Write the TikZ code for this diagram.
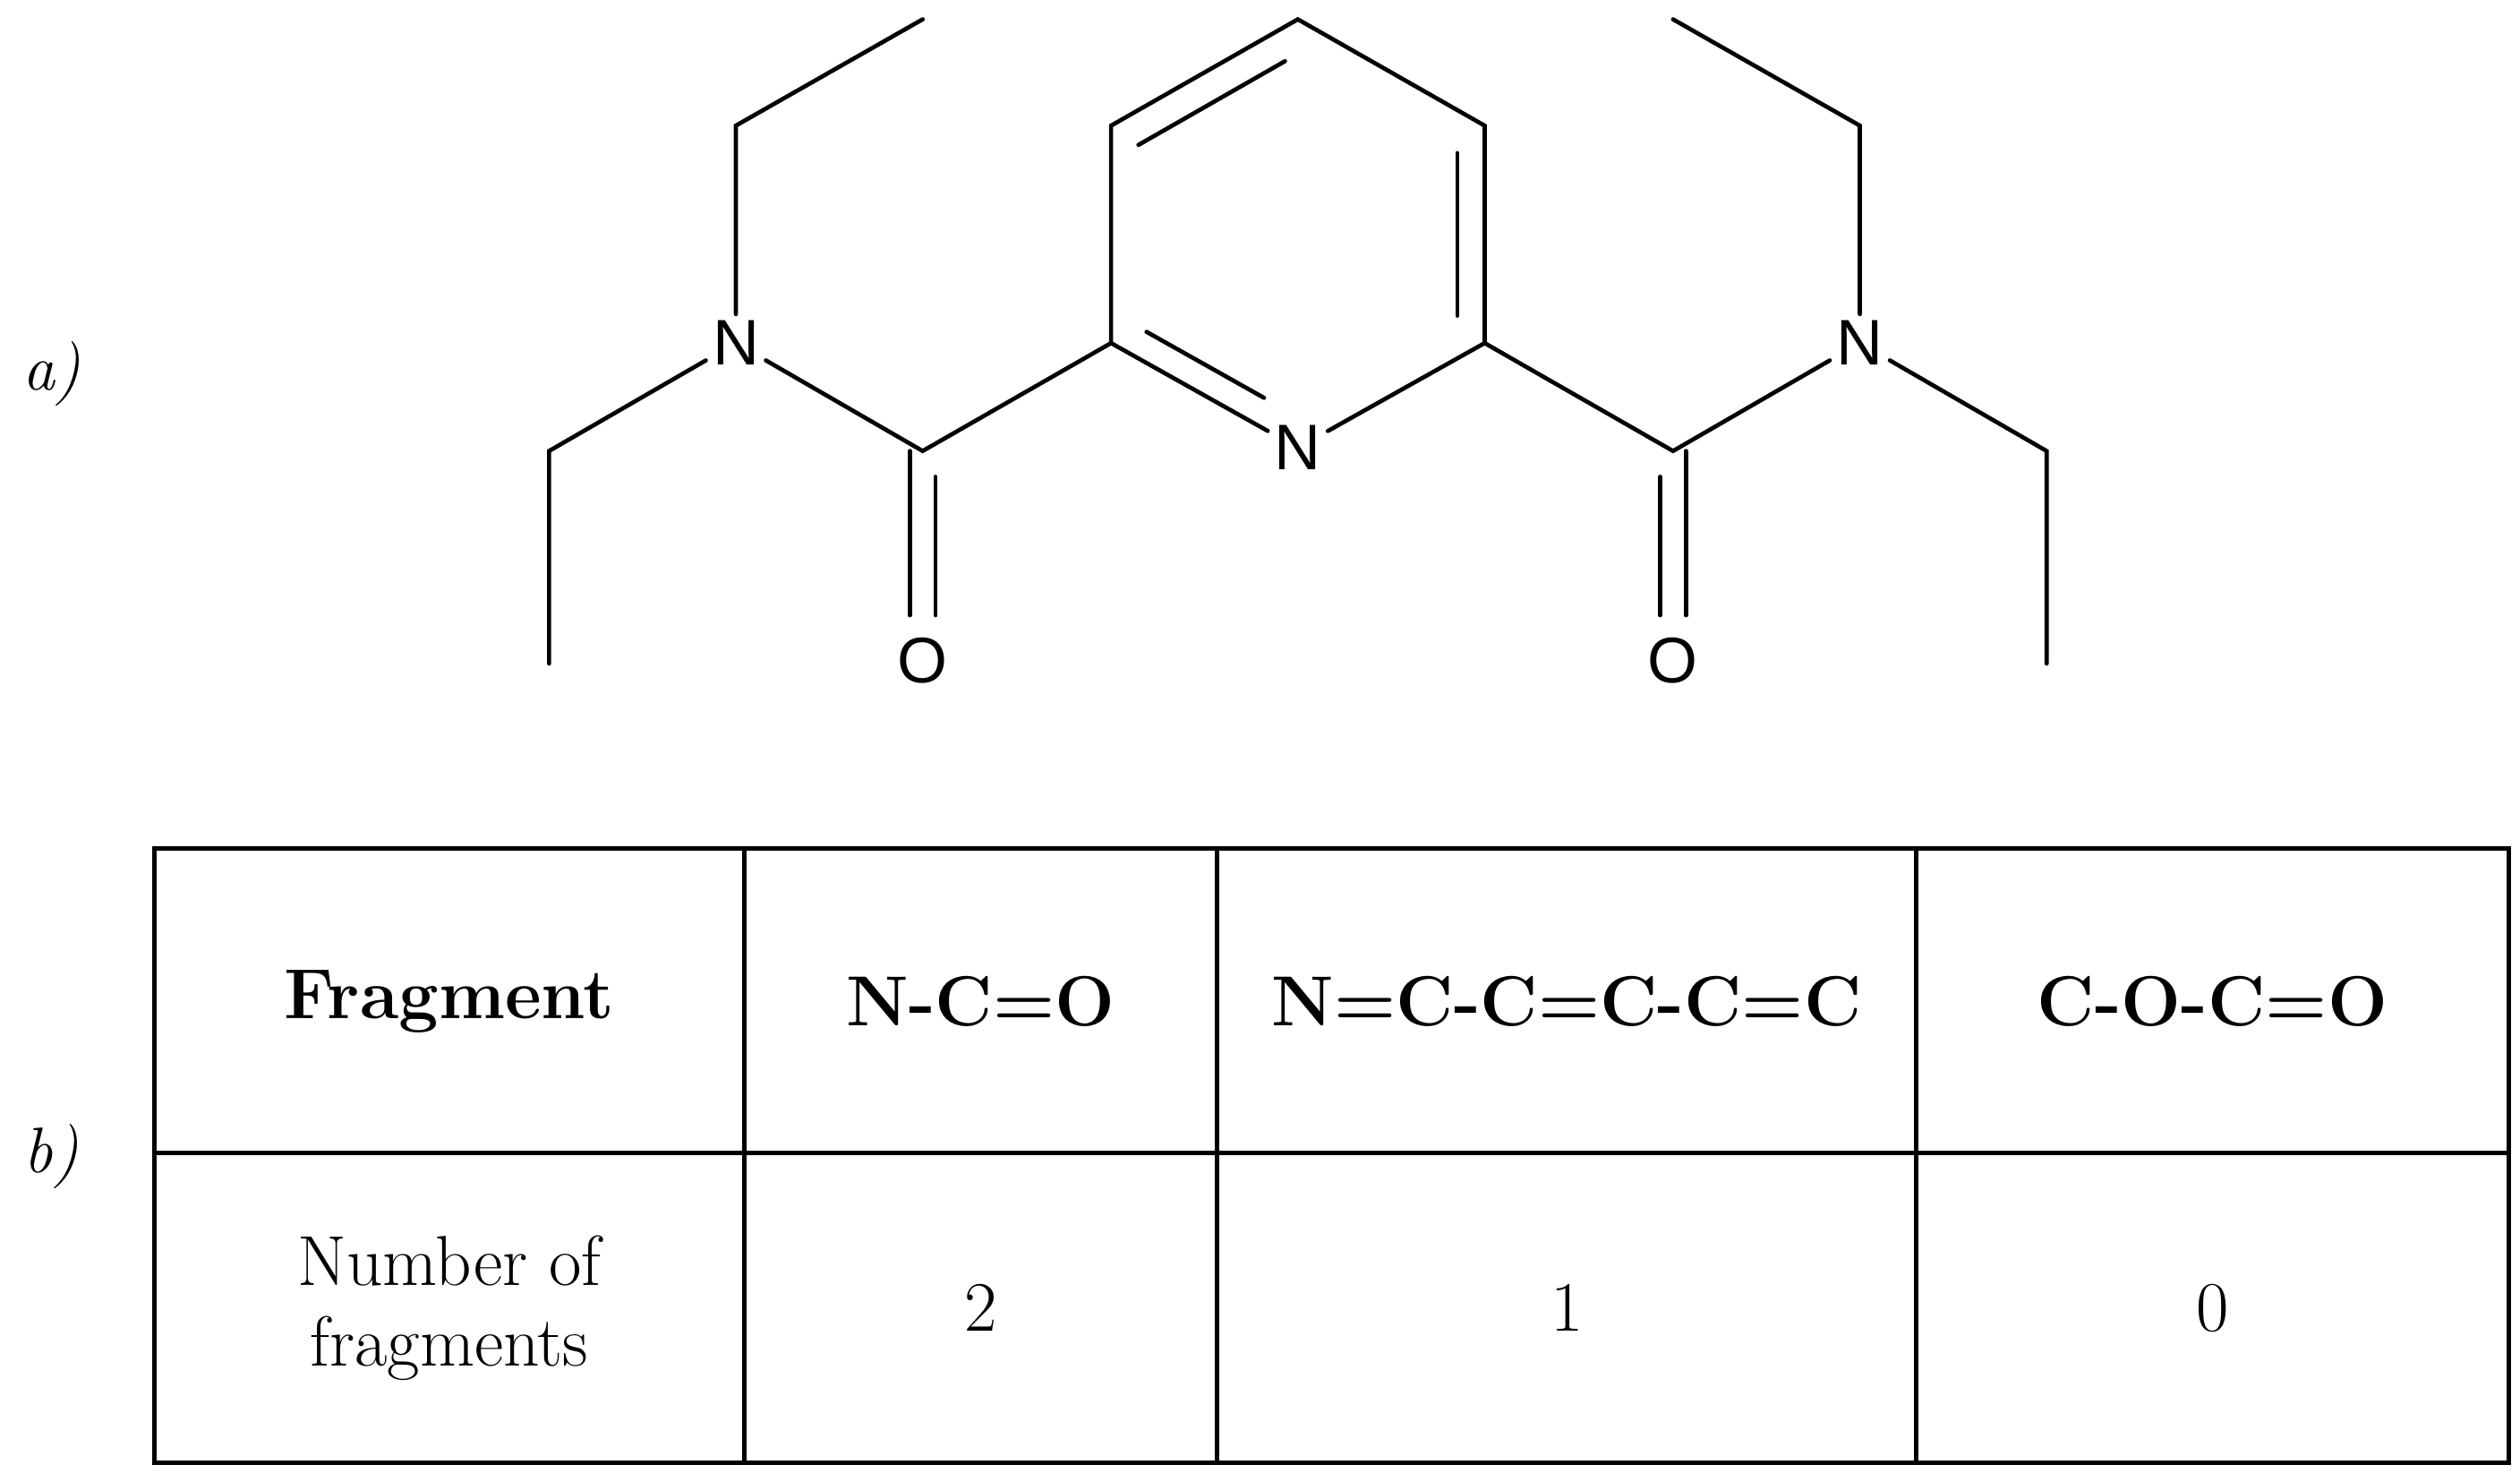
\documentclass[tikz,border=0pt]{standalone}
\usepackage{fontspec}
\newfontfamily\atomfont{Liberation Sans}
\begin{document}
\begin{tikzpicture}[x=1pt,y=-1pt,
  bond/.style={line width=2.6pt,line cap=round},
  atom/.style={font=\atomfont\fontsize{40}{40}\selectfont,inner sep=4pt},
  cell/.style={font=\fontsize{44}{50}\selectfont,align=center},
  lab/.style={font=\itshape\fontsize{40}{40}\selectfont},
  grid/.style={line width=2.8pt}]
\useasboundingbox (0,0) rectangle (1565,920);
% ring
\coordinate (r1) at (806,12); \coordinate (r2) at (690,78); \coordinate (r3) at (690,213);
\coordinate (r5) at (922,213); \coordinate (r6) at (922,78);
\node[atom] (rn) at (806,278) {N};
\coordinate (lc) at (573,280); \coordinate (rc) at (1039,280);
\node[atom] (lo) at (573,410) {O}; \node[atom] (ro) at (1039,410) {O};
\node[atom] (ln) at (457,213) {N}; \node[atom] (rnn) at (1155,213) {N};
\coordinate (l1) at (457,78); \coordinate (l2) at (573,12);
\coordinate (l3) at (341,280); \coordinate (l4) at (341,412);
\coordinate (q1) at (1155,78); \coordinate (q2) at (1039,12);
\coordinate (q3) at (1271,280); \coordinate (q4) at (1271,412);
\draw[bond] (r3)--(r2)--(r1)--(r6)--(r5);
\draw[bond] (r3)--(rn)--(r5);
\draw[bond] (798,38)--(707,90);
\draw[bond] (905,95)--(905,196);
\draw[bond] (712,206)--(785,247);
% left amide
\draw[bond] (r3)--(lc)--(ln)--(l1)--(l2);
\draw[bond] (ln)--(l3)--(l4);
\draw[bond] (565,280)--(565,382) (581,296)--(581,382);
% right amide
\draw[bond] (r5)--(rc)--(rnn)--(q1)--(q2);
\draw[bond] (rnn)--(q3)--(q4);
\draw[bond] (1047,280)--(1047,382) (1031,296)--(1031,382);
\node[lab] (la) at (32,232) {a)};
\node[lab] (lb) at (32,718) {b)};
% table
\draw[grid] (96,527) rectangle (1558,908);
\draw[grid] (96,716)--(1558,716);
\draw[grid] (462,527)--(462,908) (756,527)--(756,908) (1190,527)--(1190,908);
\node[cell] (h1) at (279,622) {\textbf{Fragment}};
\node[cell] (h2) at (609,622) {\textbf{N-C=O}};
\node[cell] (h3) at (973,622) {\textbf{N=C-C=C-C=C}};
\node[cell] (h4) at (1374,622) {\textbf{C-O-C=O}};
\node[cell] (v1) at (279,812) {Number of\\fragments};
\node[cell] (v2) at (609,812) {2};
\node[cell] (v3) at (973,812) {1};
\node[cell] (v4) at (1374,812) {0};
\end{tikzpicture}
\end{document}
